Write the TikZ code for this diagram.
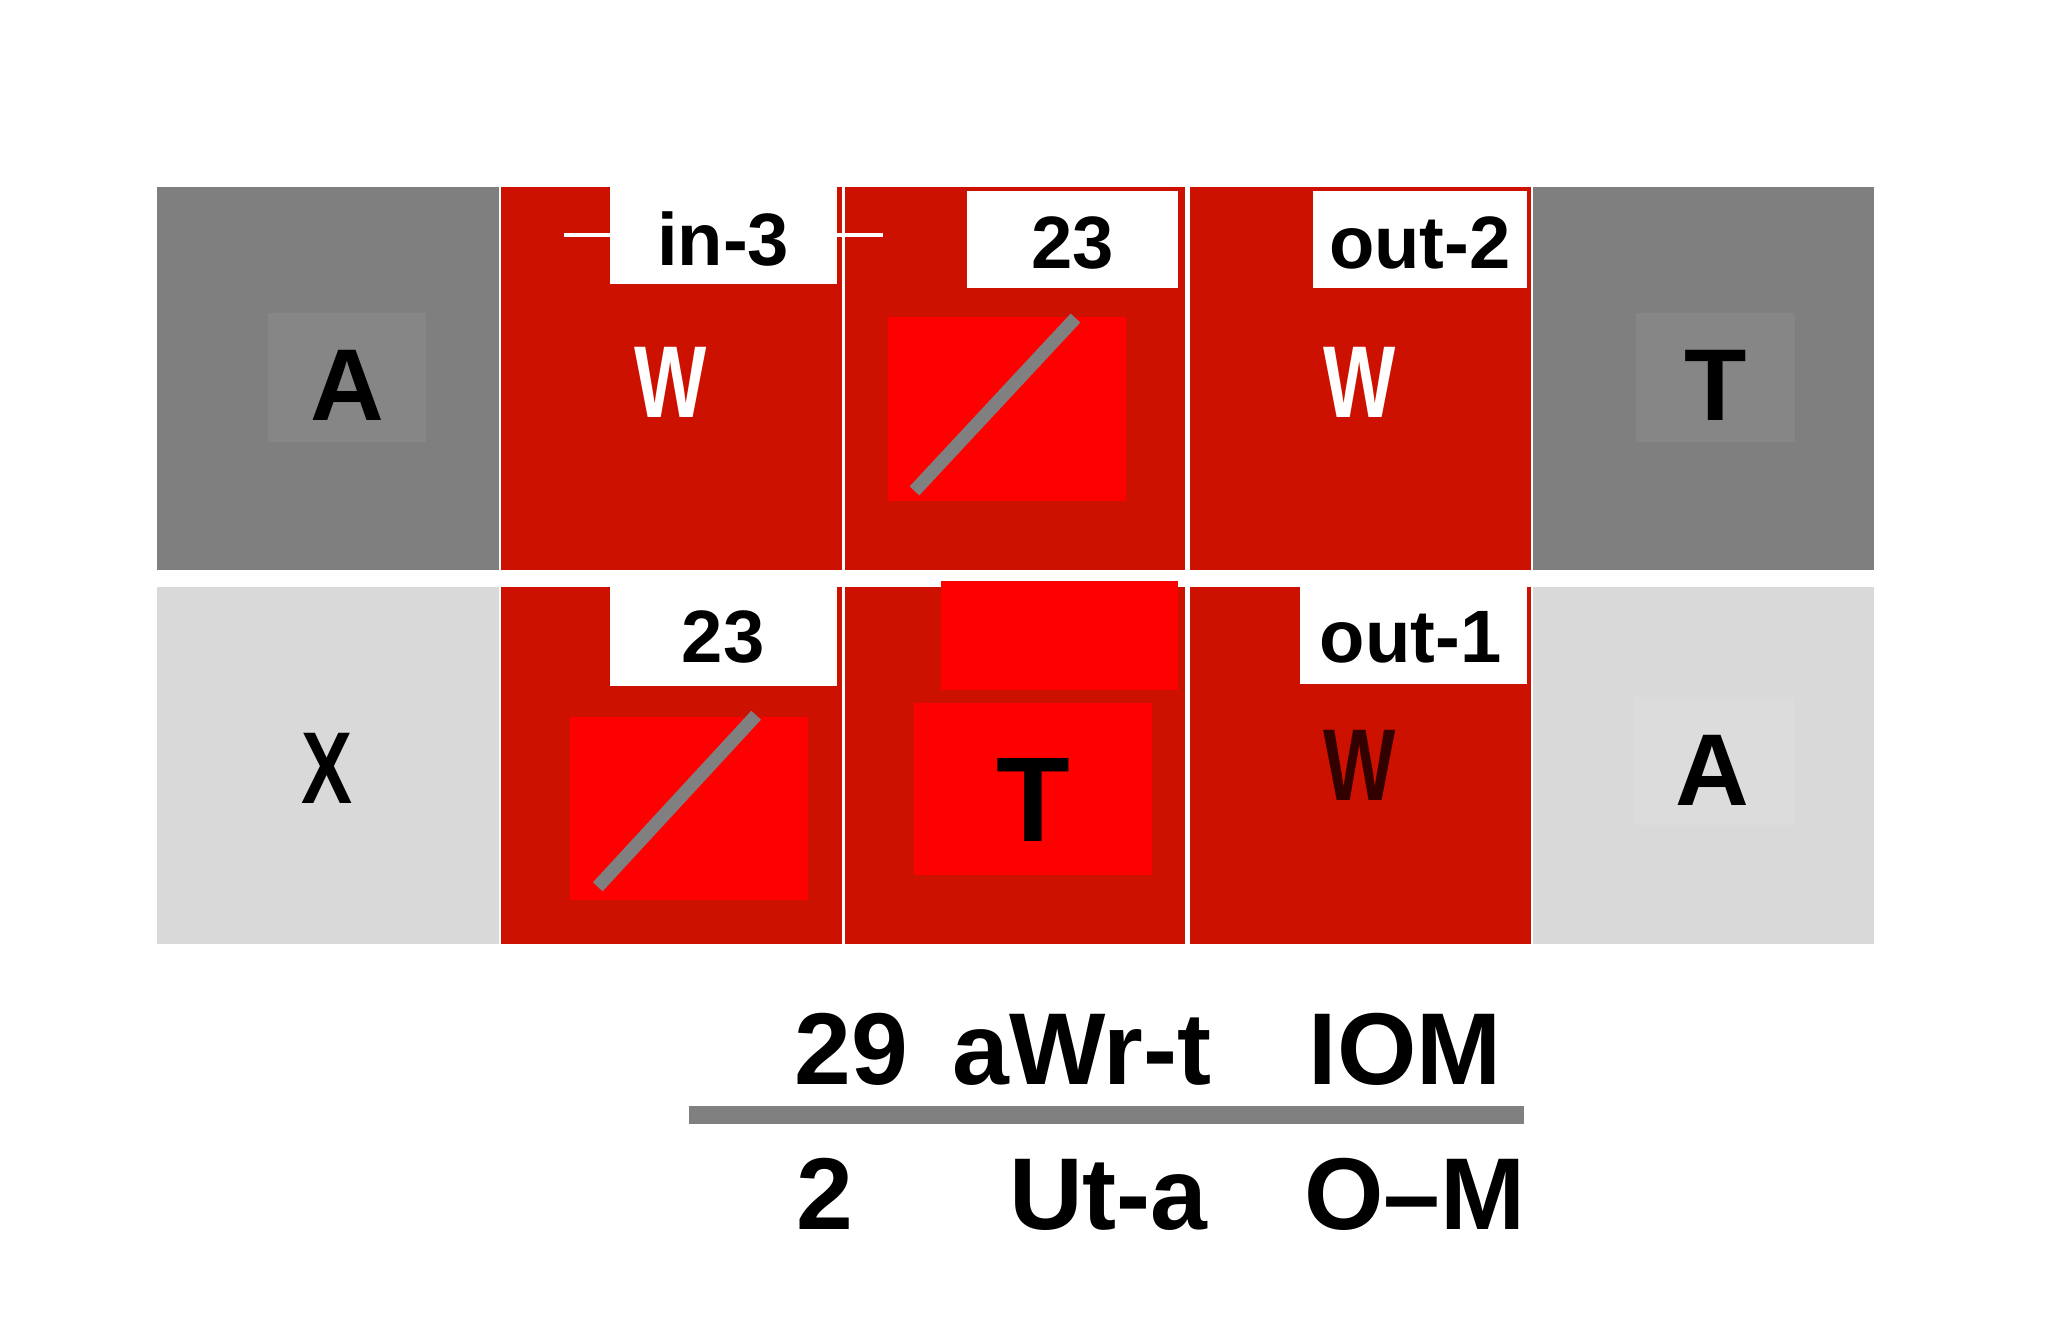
\documentclass[tikz,border=0pt]{standalone}
\usepackage{fontspec}
\setmainfont{Liberation Sans}
\begin{document}
\begin{tikzpicture}[x=0.01cm,y=-0.01cm]
\definecolor{dg}{HTML}{7F7F7F}\definecolor{dgi}{HTML}{868686}
\definecolor{lg}{HTML}{D9D9D9}\definecolor{lgi}{HTML}{DCDCDC}
\definecolor{rd}{HTML}{CC1100}\definecolor{br}{HTML}{FF0000}
\definecolor{ln}{HTML}{808080}
\tikzset{lbl/.style={fill=white,font=\bfseries\fontsize{16}{18}\selectfont,inner sep=0pt},
big/.style={font=\bfseries\fontsize{22}{24}\selectfont},
bot/.style={font=\bfseries\fontsize{22}{24}\selectfont,anchor=base}}
\useasboundingbox (0,0) rectangle (1552,1015);
\fill[white] (0,0) rectangle (1552,1015);
% top row
\fill[dg] (119,142) rectangle (378,432);
\fill[dgi] (203,237) rectangle (323,335);
\fill[rd] (380,142) rectangle (638,432);
\fill[rd] (640,142) rectangle (898,432);
\fill[rd] (902,142) rectangle (1160,432);
\fill[dg] (1162,142) rectangle (1420,432);
\fill[dgi] (1240,237) rectangle (1360,335);
% bottom row
\fill[lg] (119,445) rectangle (378,715);
\fill[rd] (380,445) rectangle (638,715);
\fill[rd] (640,445) rectangle (898,715);
\fill[rd] (902,445) rectangle (1160,715);
\fill[lg] (1162,445) rectangle (1420,715);
\fill[lgi] (1238,528) rectangle (1360,625);
% labels
\node[lbl,minimum width=172\pgflinewidth] (l1) at (548,178) {};
\fill[white] (462,142) rectangle (634,215); \node[lbl] (t1) at (548,181) {in-3};
\fill[white] (733,145) rectangle (893,218); \node[lbl] (t2) at (813,184) {23};
\fill[white] (995,145) rectangle (1157,218); \node[lbl] (t3) at (1076,184) {out-2};
\fill[white] (462,442) rectangle (634,520); \node[lbl] (t4) at (548,483) {23};
\fill[white] (985,442) rectangle (1157,518); \node[lbl] (t5) at (1069,483) {out-1};
% bright boxes
\fill[br] (673,240) rectangle (853,380);
\draw[ln,line width=0.1cm] (693,372) -- (815,241);
\fill[br] (432,543) rectangle (612,682);
\draw[ln,line width=0.1cm] (453,672) -- (573,542);
\fill[br] (713,440) rectangle (893,523);
\fill[br] (693,533) rectangle (873,663);
% letters
\node[big] (a1) at (263,292) {A};
\node[big,white,xscale=0.75] (w1) at (508,290) {W};
\node[big,white,xscale=0.75] (w2) at (1030,290) {W};
\node[big] (t6) at (1300,292) {T};
\node[big,xscale=0.75] (x1) at (248,582) {X};
\node[big,font=\bfseries\fontsize{26}{28}\selectfont] (t7) at (783,606) {T};
\node[big,black!80!red,xscale=0.75] (w3) at (1030,580) {W};
\node[big] (a2) at (1298,584) {A};
% bottom text
\node[bot] (n1) at (645,822) {29};
\node[bot] (n2) at (820,822) {aWr-t};
\node[bot] (n3) at (1065,822) {IOM};
\coordinate (la) at (522,845); \coordinate (lb) at (1155,845);
\draw[ln,line width=0.14cm] (la) -- (lb);
\node[bot] (n4) at (625,932) {2};
\node[bot] (n5) at (840,932) {Ut-a};
\node[bot] (n6) at (1072,932) {O–M};
\end{tikzpicture}
\end{document}
